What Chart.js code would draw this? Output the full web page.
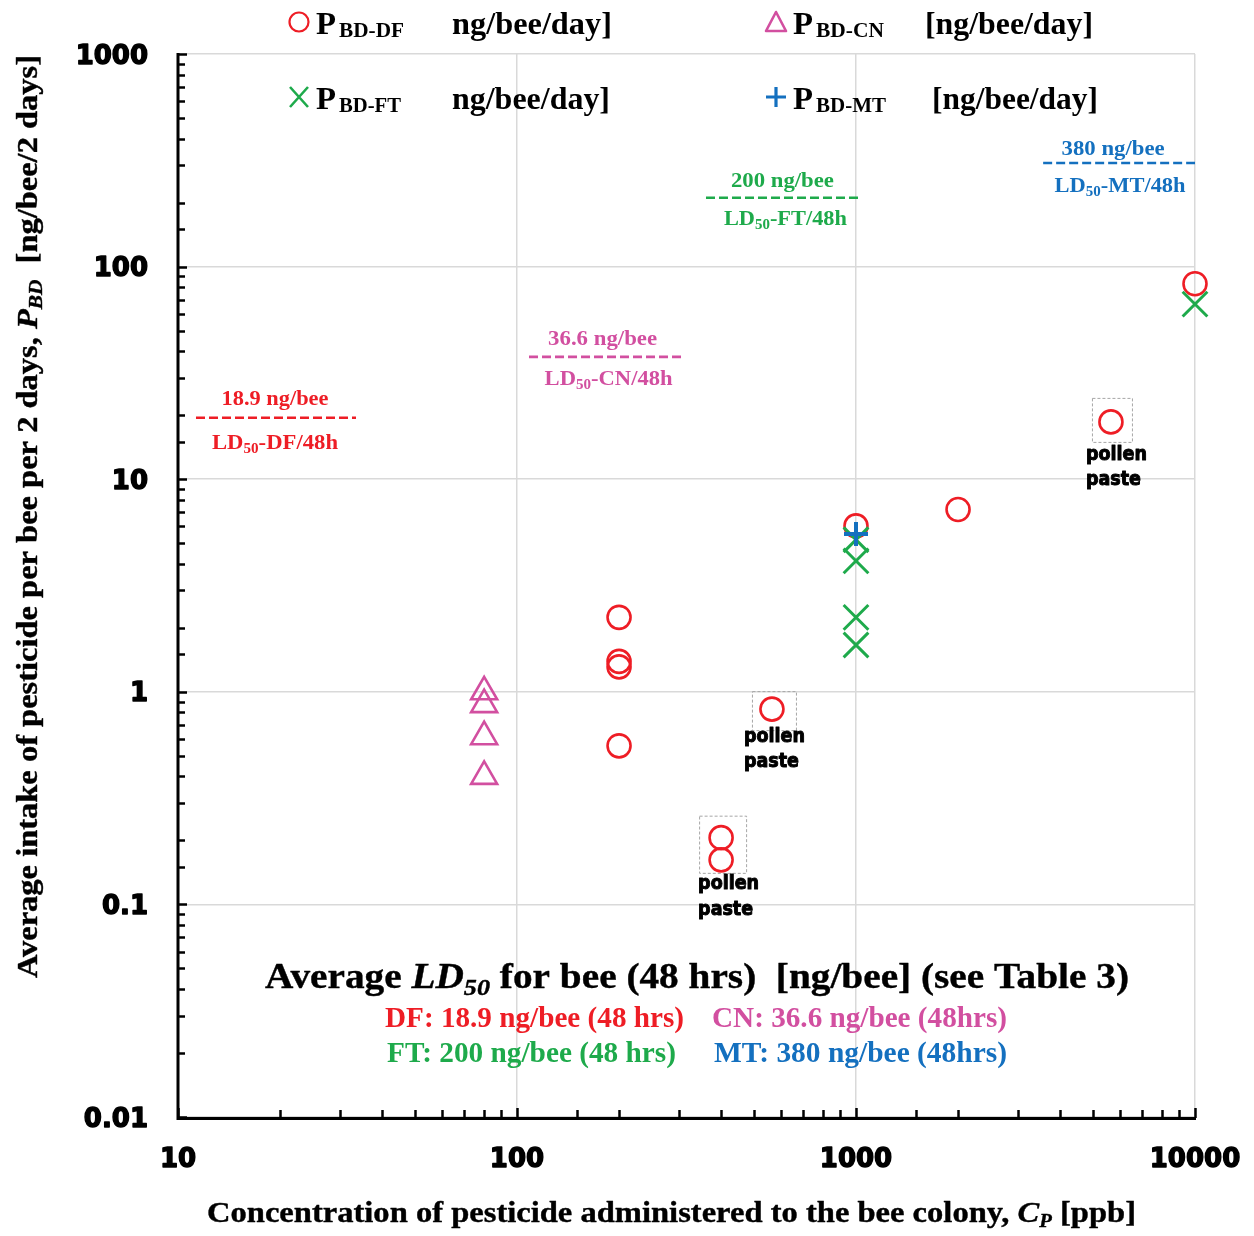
<!DOCTYPE html>
<html><head><meta charset="utf-8">
<script src="https://cdn.jsdelivr.net/npm/chart.js@4/dist/chart.umd.min.js"></script>
<style>html,body{margin:0;padding:0;background:#fff}#wrap{width:1254px;height:1236px}</style>
</head><body><div id="wrap"><canvas id="c" width="1254" height="1236"></canvas></div>
<script>
// ---------------- data ----------------
const xTickValues = [10, 100, 1000, 10000];
const xTickLabels = ['10', '100', '1000', '10000'];
const yTickValues = [0.01, 0.1, 1, 10, 100, 1000];
const yTickLabels = ['0.01', '0.1', '1', '10', '100', '1000'];

const dfX = [200, 200, 200, 200, 400, 400, 565, 1000, 2000, 5650, 10000];
const dfY = [2.24, 1.39, 1.31, 0.557, 0.206, 0.162, 0.829, 6.03, 7.2, 18.6, 83];
const cnX = [80, 80, 80, 80];
const cnY = [1.0, 0.87, 0.615, 0.40];
const ftX = [1000, 1000, 1000, 1000, 10000];
const ftY = [5.19, 4.13, 2.24, 1.66, 66.6];
const mtX = [1000];
const mtY = [5.53];

const ld50Names = ['DF', 'CN', 'FT', 'MT'];
const ld50Values = ['18.9', '36.6', '200', '380'];
const ld50LineLevel = [19.45, 37.6, 210.7, 307];   // level where each dashed line is drawn
const ld50LineFrom = [11.3, 108.5, 361, 3565];
const ld50LineTo = [33.5, 307, 1020, 10000];
const ld50Summary = ['DF: 18.9 ng/bee (48 hrs)', 'CN: 36.6 ng/bee (48hrs)', 'FT: 200 ng/bee (48 hrs)', 'MT: 380 ng/bee (48hrs)'];

const pollenGroups = [[6], [4, 5], [9]]; // indices into DF series

// ---------------- styles ----------------
const RED = '#ee1d25', PINK = '#d24fa0', GREEN = '#1eaa4b', BLUE = '#1470bf';
const SERIF = '"Liberation Serif", "Times New Roman", serif';
const SANS = '"DejaVu Sans", sans-serif';

const pts = (xs, ys) => xs.map((x, i) => ({x, y: ys[i]}));

const datasets = [
  {label: 'MT', data: pts(mtX, mtY), pointStyle: 'cross', pointRadius: 12, pointBorderWidth: 4,
   borderColor: BLUE, backgroundColor: 'rgba(0,0,0,0)', order: 0, clip: false},
  {label: 'FT', data: pts(ftX, ftY), pointStyle: 'crossRot', pointRadius: 17.5, pointBorderWidth: 3,
   borderColor: GREEN, backgroundColor: 'rgba(0,0,0,0)', order: 1, clip: false},
  {label: 'CN', data: pts(cnX, cnY), pointStyle: 'triangle', pointRadius: 15, pointBorderWidth: 2.6,
   borderColor: PINK, backgroundColor: 'rgba(0,0,0,0)', order: 2, clip: false},
  {label: 'DF', data: pts(dfX, dfY), pointStyle: 'circle', pointRadius: 11.5, pointBorderWidth: 2.6,
   borderColor: RED, backgroundColor: 'rgba(0,0,0,0)', order: 3, clip: false},
];
const ldColors = [RED, PINK, GREEN, BLUE];
ld50Names.forEach((n, i) => {
  datasets.push({type: 'line', label: 'LD50-' + n,
    data: [{x: ld50LineFrom[i], y: ld50LineLevel[i]}, {x: ld50LineTo[i], y: ld50LineLevel[i]}],
    borderColor: ldColors[i], borderWidth: 2.6, borderDash: [9, 4], pointRadius: 0, fill: false,
    order: 5, clip: false});
});

function drawRich(ctx, segs, x, y, o = {}) {
  const align = o.align || 'center';
  ctx.save();
  let total = 0;
  for (const s of segs) { ctx.font = s.f; s.w = ctx.measureText(s.t).width; total += s.w; }
  const sc = o.width ? o.width / total : 1;
  ctx.translate(x, y);
  if (o.rotate) ctx.rotate(o.rotate);
  ctx.scale(sc, 1);
  let cx = align === 'center' ? -total / 2 : align === 'right' ? -total : 0;
  ctx.textBaseline = 'alphabetic'; ctx.textAlign = 'left';
  for (const s of segs) {
    ctx.font = s.f; ctx.fillStyle = s.c || o.color || '#000';
    ctx.fillText(s.t, cx, s.dy || 0);
    if (o.stroke) { ctx.strokeStyle = ctx.fillStyle; ctx.lineWidth = o.stroke; ctx.lineJoin = 'round'; ctx.strokeText(s.t, cx, s.dy || 0); }
    cx += s.w;
  }
  ctx.restore();
}
const B = (px) => 'bold ' + px + 'px ' + SERIF;
const BI = (px) => 'italic bold ' + px + 'px ' + SERIF;

function marker(ctx, type, x, y, color) {
  ctx.save(); ctx.strokeStyle = color; ctx.beginPath();
  if (type === 'circle') { ctx.lineWidth = 2.2; ctx.arc(x, y, 9.5, 0, Math.PI * 2); }
  if (type === 'triangle') { ctx.lineWidth = 2.6; ctx.moveTo(x, y - 10); ctx.lineTo(x + 10, y + 9); ctx.lineTo(x - 10, y + 9); ctx.closePath(); }
  if (type === 'x') { ctx.lineWidth = 2.6; ctx.moveTo(x - 9, y - 10); ctx.lineTo(x + 9, y + 10); ctx.moveTo(x + 9, y - 10); ctx.lineTo(x - 9, y + 10); }
  if (type === 'plus') { ctx.lineWidth = 3.2; ctx.moveTo(x - 10, y); ctx.lineTo(x + 10, y); ctx.moveTo(x, y - 10); ctx.lineTo(x, y + 10); }
  ctx.stroke(); ctx.restore();
}

const decor = {
  id: 'decor',
  beforeDatasetsDraw(chart) {
    const ctx = chart.ctx, xs = chart.scales.x, ys = chart.scales.y;
    const boxOff = [[-20, 24, -18, 21], [-22, 25, -22, 13], [-19, 21, -24, 20]];
    ctx.save(); ctx.strokeStyle = '#a6a6a6'; ctx.lineWidth = 1; ctx.setLineDash([3, 2]);
    pollenGroups.forEach((g, k) => {
      const px = g.map(i => xs.getPixelForValue(dfX[i]));
      const py = g.map(i => ys.getPixelForValue(dfY[i]));
      const x0 = Math.min(...px) + boxOff[k][0], x1 = Math.max(...px) + boxOff[k][1];
      const y0 = Math.min(...py) + boxOff[k][2], y1 = Math.max(...py) + boxOff[k][3];
      ctx.strokeRect(x0 + 0.5, y0 + 0.5, x1 - x0, y1 - y0);
    });
    ctx.restore();
  },
  afterDraw(chart) {
    const ctx = chart.ctx, xs = chart.scales.x, ys = chart.scales.y, a = chart.chartArea;
    ctx.save();
    // axes
    ctx.strokeStyle = '#000'; ctx.lineWidth = 3; ctx.lineCap = 'butt';
    ctx.beginPath(); ctx.moveTo(a.left, a.top - 1); ctx.lineTo(a.left, a.bottom + 1.5);
    ctx.lineTo(a.right + 1, a.bottom + 1.5); ctx.stroke();
    ctx.lineWidth = 2.5;
    ys.ticks.forEach(t => {
      const py = Math.round(ys.getPixelForValue(t.value)) + 0.5;
      const maj = isMajor(t.value);
      ctx.beginPath(); ctx.moveTo(a.left, py); ctx.lineTo(a.left + (maj ? 9 : 7), py); ctx.stroke();
    });
    xs.ticks.forEach(t => {
      const px = Math.round(xs.getPixelForValue(t.value)) + 0.5;
      const maj = isMajor(t.value);
      ctx.beginPath(); ctx.moveTo(px, a.bottom + 1); ctx.lineTo(px, a.bottom - (maj ? 9 : 7)); ctx.stroke();
    });
    // tick labels (heavy)
    ctx.fillStyle = '#000'; ctx.strokeStyle = '#000'; ctx.lineWidth = 1.4; ctx.lineJoin = 'round';
    ctx.font = 'bold 26px ' + SANS; ctx.textBaseline = 'alphabetic';
    ctx.textAlign = 'right';
    yTickValues.forEach((v, i) => {
      const y = ys.getPixelForValue(v) + 9.5;
      ctx.fillText(yTickLabels[i], 148, y); ctx.strokeText(yTickLabels[i], 148, y);
    });
    ctx.textAlign = 'center';
    xTickValues.forEach((v, i) => {
      const x = xs.getPixelForValue(v);
      ctx.fillText(xTickLabels[i], x, 1166.5); ctx.strokeText(xTickLabels[i], x, 1166.5);
    });

    // axis titles
    drawRich(ctx, [
      {t: 'Concentration of pesticide administered to the bee colony, ', f: B(30)},
      {t: 'C', f: BI(30)}, {t: 'P', f: BI(19), dy: 5}, {t: ' [ppb]', f: B(30)}
    ], 671.5, 1222, {width: 929, stroke: 0.4});
    drawRich(ctx, [
      {t: 'Average intake of pesticide per bee per 2 days, ', f: B(29)},
      {t: 'P', f: BI(29)}, {t: 'BD', f: BI(19), dy: 5}, {t: '  [ng/bee/2 days]', f: B(29)}
    ], 37, 516.5, {width: 923, rotate: -Math.PI / 2, stroke: 0.4});

    // LD50 annotations near dashed lines
    ld50Names.forEach((n, i) => {
      const cx = (xs.getPixelForValue(ld50LineFrom[i]) + xs.getPixelForValue(ld50LineTo[i])) / 2;
      const ly = ys.getPixelForValue(ld50LineLevel[i]);
      const dxTop = [-1, -3, 0, -6][i], dxBot = [-1, 3, 3, 1][i];
      const dyTop = [-13, -12, -11, -8][i], dyBot = [31, 28, 27, 29][i];
      const wTop = [107, 109, 103, 103][i], wBot = [126, 128, 123, 131][i];
      drawRich(ctx, [{t: ld50Values[i] + ' ng/bee', f: B(21)}], cx + dxTop, ly + dyTop, {width: wTop, color: ldColors[i]});
      drawRich(ctx, [{t: 'LD', f: B(21)}, {t: '50', f: B(14), dy: 4}, {t: '-' + n + '/48h', f: B(21)}],
        cx + dxBot, ly + dyBot, {width: wBot, color: ldColors[i]});
    });

    // pollen paste labels
    const lab = [[-28, 33, 58], [-23, 29, 55], [-25, 38, 63]];
    pollenGroups.forEach((g, k) => {
      const px = Math.min(...g.map(i => xs.getPixelForValue(dfX[i])));
      const py = Math.max(...g.map(i => ys.getPixelForValue(dfY[i])));
      drawRich(ctx, [{t: 'pollen', f: 'bold 19px ' + SANS}], px + lab[k][0], py + lab[k][1], {align: 'left', width: 61, stroke: 1});
      drawRich(ctx, [{t: 'paste', f: 'bold 19px ' + SANS}], px + lab[k][0], py + lab[k][2], {align: 'left', width: 55, stroke: 1});
    });

    // LD50 summary block
    drawRich(ctx, [
      {t: 'Average ', f: B(36)}, {t: 'LD', f: BI(36)}, {t: '50', f: BI(24), dy: 7},
      {t: ' for bee (48 hrs)  [ng/bee] (see Table 3)', f: B(36)}
    ], 697, 988, {width: 864, stroke: 0.4});
    drawRich(ctx, [{t: ld50Summary[0], f: B(29)}], 534.5, 1027, {width: 299, color: RED});
    drawRich(ctx, [{t: ld50Summary[1], f: B(29)}], 859.5, 1027, {width: 295, color: PINK});
    drawRich(ctx, [{t: ld50Summary[2], f: B(29)}], 531.5, 1062, {width: 289, color: GREEN});
    drawRich(ctx, [{t: ld50Summary[3], f: B(29)}], 860.5, 1062, {width: 293, color: BLUE});

    // legend
    const leg = [
      {m: 'circle', c: RED, x: 299, y: 22, sub: 'BD-DF', unit: 'ng/bee/day]', ux: 452, uw: 160, sw: 65},
      {m: 'triangle', c: PINK, x: 776, y: 22, sub: 'BD-CN', unit: '[ng/bee/day]', ux: 925, uw: 168, sw: 68},
      {m: 'x', c: GREEN, x: 299, y: 97, sub: 'BD-FT', unit: 'ng/bee/day]', ux: 452, uw: 158, sw: 62},
      {m: 'plus', c: BLUE, x: 776, y: 97, sub: 'BD-MT', unit: '[ng/bee/day]', ux: 932, uw: 166, sw: 70},
    ];
    leg.forEach(L => {
      marker(ctx, L.m, L.x, L.y, L.c);
      drawRich(ctx, [{t: 'P', f: B(32)}], L.x + 17, L.y + 12, {align: 'left', width: 20});
      drawRich(ctx, [{t: L.sub, f: B(21)}], L.x + 40, L.y + 15, {align: 'left', width: L.sw});
      drawRich(ctx, [{t: L.unit, f: B(32)}], L.ux, L.y + 12, {align: 'left', width: L.uw});
    });
    ctx.restore();
  }
};

function isMajor(v) { return Math.abs(Math.log10(v) - Math.round(Math.log10(v))) < 1e-6; }
const gridOpt = {
  drawTicks: false, lineWidth: 1.5,
  color: c => (c.tick && isMajor(c.tick.value)) ? '#d9d9d9' : 'rgba(0,0,0,0)'
};

new Chart(document.getElementById('c'), {
  type: 'scatter',
  data: {datasets},
  options: {
    responsive: false, animation: false, devicePixelRatio: 1,
    layout: {padding: {left: 178, right: 59, top: 54, bottom: 119}},
    scales: {
      x: {type: 'logarithmic', min: 10, max: 10000, ticks: {display: false}, grid: gridOpt, border: {display: false}, title: {display: false}},
      y: {type: 'logarithmic', min: 0.01, max: 1000, ticks: {display: false}, grid: gridOpt, border: {display: false}, title: {display: false}}
    },
    plugins: {legend: {display: false}, tooltip: {enabled: false}}
  },
  plugins: [decor]
});
</script>
</body></html>
